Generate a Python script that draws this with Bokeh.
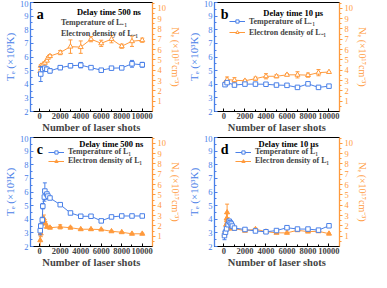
from bokeh.plotting import figure
from bokeh.layouts import gridplot
from bokeh.models import Range1d, LinearAxis, Label, Legend, LegendItem, FixedTicker
from bokeh.embed import file_html
from bokeh.resources import INLINE

BLUE = "#4a80e8"
ORANGE = "#ff9a3c"
FONT = "Liberation Serif"

late_x = [2000, 3000, 4000, 5000, 6000, 7000, 8000, 9000, 10000]
shot_ticks = [0, 2000, 4000, 6000, 8000, 10000]
shot_minor = [1000, 3000, 5000, 7000, 9000]
te_ticks = [2, 3, 4, 5, 6, 7, 8, 9, 10]
ne_ticks = [1, 2, 3, 4, 5, 6, 7, 8, 9, 10]

# panel a (Delay time 500 ns, L-1)
a_te_x = [100, 300, 500, 700, 1000] + late_x
a_te = [4.75, 5.09, 5.18, 5.1, 4.98, 5.22, 5.36, 5.4, 5.22, 5.03, 5.18, 5.2, 5.5, 5.43]
a_te_err = [0.55, 0.15, 0.1, 0.1, 0.15, 0.15, 0.15, 0.2, 0.05, 0.05, 0.1, 0.05, 0.25, 0.18]
a_ne_x = [50, 100, 300, 500, 700, 800, 1000] + late_x
a_ne = [3.9, 4.42, 4.54, 4.71, 4.92, 5.2, 5.36, 5.7, 6.28, 6.23, 7.0, 6.6, 7.0, 6.32, 6.8, 6.9]
a_ne_err = [0.15, 0.1, 0.1, 0.1, 0.1, 0.1, 0.15, 0.2, 0.65, 0.6, 0.25, 0.3, 0.35, 0.2, 0.5, 0.2]

# panel b (Delay time 10 us, L-1)
b_te_x = [100, 300, 1000] + late_x
b_te = [3.97, 4.12, 3.94, 4.01, 4.01, 4.0, 3.94, 3.92, 3.77, 4.03, 3.77, 3.86]
b_te_err = [0.04, 0.04, 0.04, 0.03, 0.03, 0.03, 0.03, 0.03, 0.03, 0.04, 0.03, 0.03]
b_ne_x = [100, 300, 1000] + late_x
b_ne = [2.74, 3.09, 3.03, 2.97, 3.18, 3.41, 3.41, 3.55, 3.55, 3.52, 3.76, 3.82]
b_ne_err = [0.1, 0.25, 0.25, 0.1, 0.15, 0.25, 0.15, 0.1, 0.3, 0.2, 0.3, 0.05]

# panel c (Delay time 500 ns, L1)
c_te_x = [50, 100, 250, 300, 450, 500, 700, 800, 1000] + late_x
c_te = [3.16, 3.5, 3.95, 4.96, 5.63, 6.07, 5.85, 5.7, 5.56, 5.07, 4.46, 4.22, 4.22, 3.88, 4.17, 4.24, 4.24, 4.24]
c_te_err = [0.3, 0.2, 0.2, 0.2, 0.3, 0.6, 0.15, 0.15, 0.1, 0.12, 0.05, 0.1, 0.05, 0.05, 0.05, 0.05, 0.08, 0.1]
c_ne_x = [50, 100, 250, 400, 550, 700, 1000] + late_x
c_ne = [0.6, 1.25, 2.26, 2.7, 2.26, 1.9, 1.82, 1.9, 1.82, 1.67, 1.67, 1.64, 1.47, 1.38, 1.23, 1.23]
c_ne_err = [0.65, 0.3, 0.2, 0.35, 0.15, 0.1, 0.1, 0.2, 0.1, 0.05, 0.05, 0.05, 0.05, 0.05, 0.05, 0.05]

# panel d (Delay time 10 us, L1)
d_te_x = [50, 150, 250, 400, 500, 600, 700, 800, 1000] + late_x
d_te = [2.8, 3.05, 3.3, 3.6, 3.85, 3.75, 3.65, 3.5, 3.35, 3.25, 3.14, 3.08, 3.17, 3.38, 3.28, 3.28, 3.2, 3.52]
d_te_err = [0.3, 0.15, 0.15, 0.1, 0.15, 0.1, 0.1, 0.1, 0.05, 0.05, 0.05, 0.05, 0.05, 0.05, 0.05, 0.05, 0.05, 0.08]
d_ne_x = [50, 200, 250, 300, 350, 500, 700, 1000] + late_x
d_ne = [1.15, 2.1, 2.7, 3.3, 2.4, 1.77, 1.74, 1.74, 1.52, 1.67, 1.44, 1.32, 1.32, 1.57, 1.44, 1.47, 1.24]
d_ne_err = [0.2, 0.3, 0.5, 0.8, 0.4, 0.15, 0.1, 0.1, 0.05, 0.1, 0.05, 0.05, 0.05, 0.05, 0.05, 0.05, 0.05]

letters = ["a", "b", "c", "d"]
delays = ["Delay time 500 ns", "Delay time 10 μs", "Delay time 500 ns", "Delay time 10 μs"]
te_names = ["Temperature of L₋₁", "Temperature of L₋₁", "Temperature of L₁", "Temperature of L₁"]
ne_names = ["Electron density of L₋₁", "Electron density of L₋₁", "Electron density of L₁", "Electron density of L₁"]

X_LABEL = "Number of laser shots"
TE_LABEL = "Tₑ (×10³K)"
NE_LABEL = "Nₑ (×10¹⁷cm⁻³)"


def err_bars(p, xs, ys, es, color, rng=None):
    lo = [y - e for y, e in zip(ys, es)]
    hi = [y + e for y, e in zip(ys, es)]
    kw = {} if rng is None else {"y_range_name": rng}
    p.segment(x0=xs, y0=lo, x1=xs, y1=hi, line_color=color, line_width=1, **kw)
    p.scatter(x=xs + xs, y=lo + hi, marker="dash", size=4, line_color=color, line_width=1, **kw)


def panel(i, te_x, te, te_err, ne_x, ne, ne_err, width, bl, br, leg_margin, title_xy, ne_filled, legend_circles):
    p = figure(width=width, frame_height=109, x_range=Range1d(-900, 11000), y_range=Range1d(2, 10),
               output_backend="svg", toolbar_location=None, title=None,
               min_border_top=2, min_border_bottom=0, min_border_left=bl, min_border_right=br)
    p.extra_y_ranges = {"ne": Range1d(0, 10.55)}
    p.xgrid.visible = False
    p.ygrid.visible = False
    p.outline_line_color = "black"
    p.outline_line_width = 1
    p.background_fill_color = "white"
    p.border_fill_color = "white"

    xa = p.xaxis[0]
    xa.ticker = FixedTicker(ticks=shot_ticks, minor_ticks=shot_minor)
    xa.axis_label = X_LABEL
    xa.axis_label_text_font = FONT
    xa.axis_label_text_font_style = "bold"
    xa.axis_label_text_font_size = "10.5px"
    xa.axis_label_standoff = 0
    xa.major_label_text_font = FONT
    xa.major_label_text_font_style = "bold"
    xa.major_label_text_font_size = "8.5px"
    xa.major_label_standoff = 1
    xa.major_tick_in = 3
    xa.major_tick_out = 0
    xa.minor_tick_in = 2
    xa.minor_tick_out = 0
    xa.axis_line_color = "black"

    ya = p.yaxis[0]
    ya.ticker = FixedTicker(ticks=te_ticks, minor_ticks=[t + 0.5 for t in te_ticks[:-1]])
    ya.axis_label = TE_LABEL
    ya.axis_label_text_font = FONT
    ya.axis_label_text_font_style = "normal"
    ya.axis_label_text_font_size = "11px"
    ya.axis_label_text_color = BLUE
    ya.axis_label_standoff = 1
    ya.major_label_text_font = FONT
    ya.major_label_text_font_size = "8.5px"
    ya.major_label_text_color = BLUE
    ya.major_label_standoff = 2
    ya.axis_line_color = BLUE
    ya.axis_line_width = 1.3
    ya.major_tick_line_color = BLUE
    ya.minor_tick_line_color = BLUE
    ya.major_tick_in = 3
    ya.major_tick_out = 0
    ya.minor_tick_in = 2
    ya.minor_tick_out = 0

    ra = LinearAxis(y_range_name="ne",
                    ticker=FixedTicker(ticks=ne_ticks, minor_ticks=[t + 0.5 for t in ne_ticks] + [0.5]))
    ra.axis_label = NE_LABEL
    ra.axis_label_text_font = FONT
    ra.axis_label_text_font_style = "normal"
    ra.axis_label_text_font_size = "10px"
    ra.axis_label_text_color = ORANGE
    ra.axis_label_standoff = 1
    try:
        ra.axis_label_orientation = "vertical"
    except Exception:
        pass
    ra.major_label_text_font = FONT
    ra.major_label_text_font_size = "8.5px"
    ra.major_label_text_color = ORANGE
    ra.major_label_standoff = 2
    ra.axis_line_color = ORANGE
    ra.axis_line_width = 1.3
    ra.major_tick_line_color = ORANGE
    ra.minor_tick_line_color = ORANGE
    ra.major_tick_in = 0
    ra.major_tick_out = 3
    ra.minor_tick_in = 0
    ra.minor_tick_out = 2
    p.add_layout(ra, "right")

    # Ne series (orange triangles)
    err_bars(p, ne_x, ne, ne_err, ORANGE, "ne")
    ne_line = p.line(ne_x, ne, line_color=ORANGE, line_width=1, y_range_name="ne")
    ne_mark = p.scatter(ne_x, ne, marker="triangle", size=5, line_color=ORANGE,
                        fill_color=ORANGE if ne_filled else "white", line_width=1, y_range_name="ne")

    # Te series (blue squares)
    err_bars(p, te_x, te, te_err, BLUE)
    te_line = p.line(te_x, te, line_color=BLUE, line_width=1)
    te_mark = p.scatter(te_x, te, marker="square", size=4.5, line_color=BLUE, fill_color="white", line_width=1)

    if legend_circles:
        l1 = p.line([], [], line_color=BLUE, line_width=1)
        m1 = p.scatter([], [], marker="circle", size=4.5, line_color=BLUE, fill_color="white")
        items = [LegendItem(label=te_names[i], renderers=[l1, m1]),
                 LegendItem(label=ne_names[i], renderers=[l1, m1])]
    else:
        items = [LegendItem(label=te_names[i], renderers=[te_line, te_mark]),
                 LegendItem(label=ne_names[i], renderers=[ne_line, ne_mark])]

    leg = Legend(items=items, location="top_right", label_text_font=FONT, label_text_font_style="bold",
                 label_text_font_size="8px", glyph_width=16, glyph_height=8, label_height=8,
                 spacing=0, padding=0, margin=leg_margin, label_standoff=4,
                 border_line_alpha=0, background_fill_alpha=0)
    p.add_layout(leg)

    p.add_layout(Label(x=title_xy[0], y=title_xy[1], text=delays[i], text_font=FONT,
                       text_font_style="bold", text_font_size="8.5px", text_baseline="middle",
                       text_color="black"))
    p.add_layout(Label(x=-300, y=9.15, text=letters[i], text_font=FONT, text_font_style="bold",
                       text_font_size="14px", text_baseline="middle", text_color="black"))
    return p


pa = panel(0, a_te_x, a_te, a_te_err, a_ne_x, a_ne, a_ne_err, 184, 0, 0, 14, (3630, 9.3), False, True)
pb = panel(1, b_te_x, b_te, b_te_err, b_ne_x, b_ne, b_ne_err, 187, 27, 32, 13, (3750, 9.22), False, False)
pc = panel(2, c_te_x, c_te, c_te_err, c_ne_x, c_ne, c_ne_err, 184, 0, 0, 10, (3860, 9.55), True, False)
pd = panel(3, d_te_x, d_te, d_te_err, d_ne_x, d_ne, d_ne_err, 187, 27, 32, 10, (3300, 9.55), True, False)

grid = gridplot([[pa, pb], [pc, pd]], toolbar_location=None)
open("out.html", "w").write(file_html(grid, INLINE))
